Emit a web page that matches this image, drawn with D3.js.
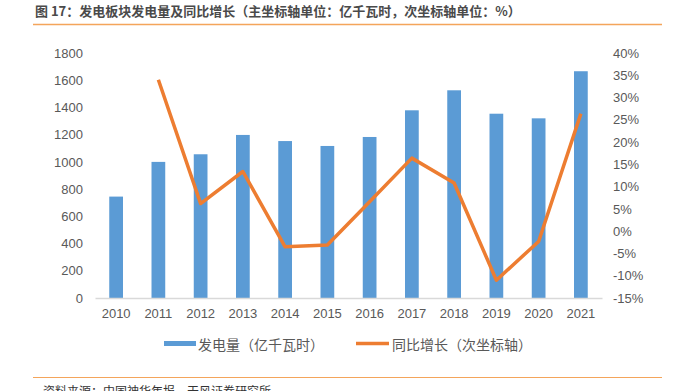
<!DOCTYPE html>
<html><head><meta charset="utf-8">
<script src="https://cdn.jsdelivr.net/npm/d3@7"></script>
<style>
body{margin:0;background:#fff;}
svg{display:block;font-family:"Liberation Sans","Noto Sans CJK SC",sans-serif;}
</style></head>
<body><svg id="c" width="674" height="391"></svg>
<script>
const years = ["2010","2011","2012","2013","2014","2015","2016","2017","2018","2019","2020","2021"];
const generation = [745,1000,1056,1198,1153,1117,1183,1379,1526,1354,1320,1666];
const growth = [null,34.0,6.2,13.4,-3.5,-3.1,6.6,16.4,10.8,-11.0,-2.3,26.4];
const leftTicks = [0,200,400,600,800,1000,1200,1400,1600,1800];
const rightTicks = [-15,-10,-5,0,5,10,15,20,25,30,35,40];
const titleText = "图 17：发电板块发电量及同比增长（主坐标轴单位：亿千瓦时，次坐标轴单位：%）";
const legendBar = "发电量（亿千瓦时）";
const legendLine = "同比增长（次坐标轴）";
const sourceText = "资料来源：中国神华年报，天风证券研究所";

const svg = d3.select("#c");
const L = 95, R = 602, T = 53, B = 298;
const blue = "#5B9BD5", orange = "#ED7D31", grey = "#595959";

const x = d3.scaleBand().domain(years).range([L, R]).paddingInner(0.675).paddingOuter(0.3375);
const yL = d3.scaleLinear().domain([0, 1800]).range([B, T]);
const yR = d3.scaleLinear().domain([-15, 40]).range([B, T]);

// title
svg.append("text").attr("x", 35).attr("y", 16).attr("font-size", 13).attr("font-weight", "bold")
  .attr("fill", "#4a4a4a").attr("font-family", "'Noto Sans CJK SC',sans-serif").text(titleText);
svg.append("line").attr("x1", 33).attr("x2", 662).attr("y1", 24.5).attr("y2", 24.5)
  .attr("stroke", "#F4A55B").attr("stroke-width", 1.5);

// bars
svg.append("g").selectAll("rect").data(years).join("rect")
  .attr("x", d => x(d)).attr("width", x.bandwidth())
  .attr("y", (d, i) => yL(generation[i])).attr("height", (d, i) => B - yL(generation[i]))
  .attr("fill", blue);

// x axis
const gx = svg.append("g").attr("transform", `translate(0,${B})`)
  .call(d3.axisBottom(x).tickSize(0).tickPadding(11));
gx.select(".domain").attr("stroke", "#d9d9d9").attr("stroke-width", 1.3);
gx.selectAll("text").attr("font-size", 13).attr("fill", grey).attr("font-family", "Liberation Sans");

// left axis
const gl = svg.append("g").attr("transform", `translate(${L},0)`)
  .call(d3.axisLeft(yL).tickValues(leftTicks).tickSize(0).tickPadding(12).tickFormat(d3.format("d")));
gl.select(".domain").remove();
gl.selectAll("text").attr("font-size", 13).attr("fill", grey).attr("font-family", "Liberation Sans");

// right axis
const gr = svg.append("g").attr("transform", `translate(${R},0)`)
  .call(d3.axisRight(yR).tickValues(rightTicks).tickSize(0).tickPadding(11).tickFormat(d => d + "%"));
gr.select(".domain").remove();
gr.selectAll("text").attr("font-size", 13).attr("fill", grey).attr("font-family", "Liberation Sans Narrow, Liberation Sans");

// line
const pts = years.map((d, i) => [x(d) + x.bandwidth() / 2, growth[i]]).filter(p => p[1] !== null);
svg.append("path").datum(pts)
  .attr("d", d3.line().x(p => p[0]).y(p => yR(p[1])))
  .attr("fill", "none").attr("stroke", orange).attr("stroke-width", 3.5)
  .attr("stroke-linejoin", "round");

// legend
const lg = svg.append("g").attr("font-family", "'Noto Sans CJK SC',sans-serif").attr("font-size", 14).attr("fill", grey);
lg.append("rect").attr("x", 164).attr("y", 341).attr("width", 32).attr("height", 5).attr("fill", blue);
lg.append("text").attr("x", 198).attr("y", 343.5).attr("dominant-baseline", "central").text(legendBar);
lg.append("line").attr("x1", 356).attr("x2", 389).attr("y1", 343.5).attr("y2", 343.5).attr("stroke", orange).attr("stroke-width", 3.5);
lg.append("text").attr("x", 392).attr("y", 343.5).attr("dominant-baseline", "central").text(legendLine);

// footer
svg.append("line").attr("x1", 33).attr("x2", 662).attr("y1", 377.5).attr("y2", 377.5)
  .attr("stroke", "#F4A55B").attr("stroke-width", 1.2);
svg.append("text").attr("x", 43).attr("y", 396).attr("font-size", 12).attr("fill", "#333")
  .attr("font-family", "'Noto Sans CJK SC',sans-serif").text(sourceText);
</script></body></html>
